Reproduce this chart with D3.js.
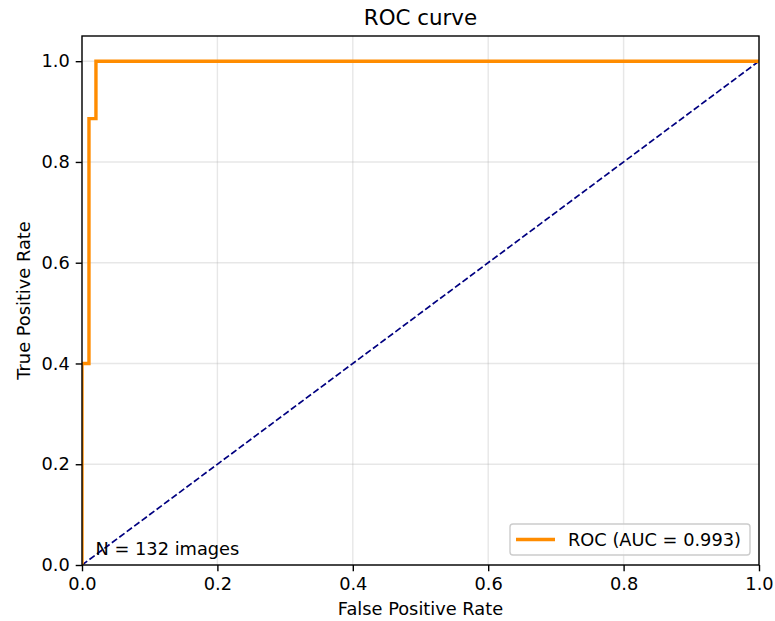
<!DOCTYPE html>
<html lang="en">
<head>
  <meta charset="UTF-8">
  <title>ROC curve</title>
  <script src="https://d3js.org/d3.v7.min.js"></script>
  <style>
    body { margin: 0; background: #fff; }
    svg text { font-family: "DejaVu Sans", sans-serif; fill: #000; }
  </style>
</head>
<body>
  <svg id="chart" width="775" height="621"></svg>

  <script>
    // ROC points (35 positives, 97 negatives)
    const fpr = [0, 0, 0.0103, 0.0103, 0.0206, 0.0206, 1];
    const tpr = [0, 0.4, 0.4, 0.886, 0.886, 1, 1];
    const chance = [0, 1];
    const xTicks = [0, 0.2, 0.4, 0.6, 0.8, 1.0];
    const yTicks = [0, 0.2, 0.4, 0.6, 0.8, 1.0];
    const aucLabel = 'ROC (AUC = 0.993)';
    const noteLabel = 'N = 132 images';

    const svg = d3.select('#chart');
    const margin = { top: 36, right: 16, bottom: 56, left: 82 };
    const width = 775, height = 621;
    const fs = 17.8;

    const x = d3.scaleLinear().domain([0, 1]).range([margin.left, width - margin.right]);
    const y = d3.scaleLinear().domain([0, 1.05]).range([height - margin.bottom, margin.top]);

    // grid
    svg.append('g').selectAll('line').data(xTicks).join('line')
      .attr('x1', d => x(d)).attr('x2', d => x(d))
      .attr('y1', y.range()[0]).attr('y2', y.range()[1])
      .attr('stroke', '#b0b0b0').attr('stroke-opacity', 0.3).attr('stroke-width', 1.4);
    svg.append('g').selectAll('line').data(yTicks).join('line')
      .attr('y1', d => y(d)).attr('y2', d => y(d))
      .attr('x1', x.range()[0]).attr('x2', x.range()[1])
      .attr('stroke', '#b0b0b0').attr('stroke-opacity', 0.3).attr('stroke-width', 1.4);

    // clip
    svg.append('clipPath').attr('id', 'clip').append('rect')
      .attr('x', margin.left).attr('y', margin.top)
      .attr('width', x.range()[1] - margin.left)
      .attr('height', y.range()[0] - margin.top);

    const plot = svg.append('g').attr('clip-path', 'url(#clip)');

    // chance line
    plot.append('path')
      .attr('d', d3.line()(chance.map(v => [x(v), y(v)])))
      .attr('fill', 'none')
      .attr('stroke', 'navy')
      .attr('stroke-width', 1.7)
      .attr('stroke-dasharray', '6.5,2.8');

    // ROC curve
    plot.append('path')
      .attr('d', d3.line()(fpr.map((f, i) => [x(f), y(tpr[i])])))
      .attr('fill', 'none')
      .attr('stroke', 'darkorange')
      .attr('stroke-width', 3.4);

    // axes
    const xAxis = svg.append('g')
      .attr('transform', `translate(0,${y.range()[0]})`)
      .call(d3.axisBottom(x).tickValues(xTicks).tickFormat(d3.format('.1f')).tickSizeOuter(0).tickSize(6.3).tickPadding(6));
    const yAxis = svg.append('g')
      .attr('transform', `translate(${margin.left},0)`)
      .call(d3.axisLeft(y).tickValues(yTicks).tickFormat(d3.format('.1f')).tickSizeOuter(0).tickSize(6.3).tickPadding(6));
    [xAxis, yAxis].forEach(a => {
      a.attr('font-size', null).attr('font-family', null);
      a.select('.domain').remove();
      a.selectAll('.tick line').attr('stroke', '#000').attr('stroke-width', 1.4);
      a.selectAll('.tick text').style('font-size', fs + 'px');
    });

    // frame
    svg.append('rect')
      .attr('x', margin.left).attr('y', margin.top)
      .attr('width', x.range()[1] - margin.left)
      .attr('height', y.range()[0] - margin.top)
      .attr('fill', 'none').attr('stroke', '#000').attr('stroke-width', 1.4);

    // labels
    svg.append('text')
      .attr('x', (x.range()[0] + x.range()[1]) / 2).attr('y', 25)
      .attr('text-anchor', 'middle').style('font-size', '21.4px')
      .text('ROC curve');
    svg.append('text')
      .attr('x', (x.range()[0] + x.range()[1]) / 2).attr('y', 615)
      .attr('text-anchor', 'middle').style('font-size', fs + 'px')
      .text('False Positive Rate');
    svg.append('text')
      .attr('transform', `translate(30,${(y.range()[0] + y.range()[1]) / 2}) rotate(-90)`)
      .attr('text-anchor', 'middle').style('font-size', fs + 'px')
      .text('True Positive Rate');

    // note
    svg.append('text')
      .attr('x', x(0.02)).attr('y', y(0.02))
      .style('font-size', fs + 'px')
      .text(noteLabel);

    // legend
    const lg = svg.append('g').attr('transform', 'translate(510,524)');
    lg.append('rect')
      .attr('width', 240).attr('height', 31).attr('rx', 3)
      .attr('fill', '#fff').attr('fill-opacity', 0.8)
      .attr('stroke', '#cccccc').attr('stroke-width', 1.4);
    lg.append('line')
      .attr('x1', 6).attr('x2', 45).attr('y1', 15.5).attr('y2', 15.5)
      .attr('stroke', 'darkorange').attr('stroke-width', 3.4);
    lg.append('text')
      .attr('x', 58).attr('y', 22)
      .style('font-size', fs + 'px')
      .text(aucLabel);
  </script>
</body>
</html>
